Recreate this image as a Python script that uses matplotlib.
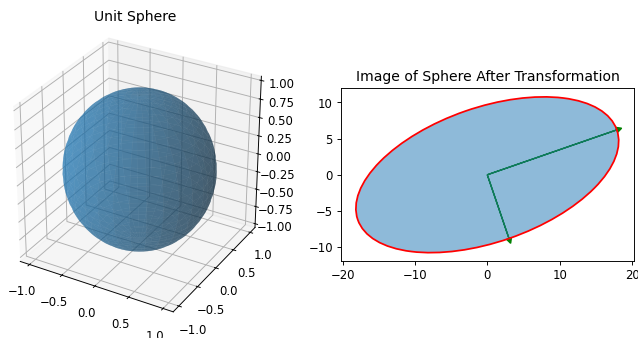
import numpy as np
import matplotlib.pyplot as plt
from matplotlib.patches import Ellipse

# semi-axes of the image ellipse
axis_vectors = [[17.9, 6.2], [3.0, -8.8]]
sphere_radius = 1.0
z_ticks = [-1.0, -0.75, -0.5, -0.25, 0.0, 0.25, 0.5, 0.75, 1.0]

DPI = 84


def plot_sphere(ax):
    u = np.linspace(0, 2 * np.pi, 60)
    v = np.linspace(0, np.pi, 60)
    x = sphere_radius * np.outer(np.cos(u), np.sin(v))
    y = sphere_radius * np.outer(np.sin(u), np.sin(v))
    z = sphere_radius * np.outer(np.ones_like(u), np.cos(v))
    ax.plot_surface(x, y, z, color='C0', alpha=0.5)
    ax.set_xlim(-1.145, 1.145)
    ax.set_ylim(-1.145, 1.145)
    ax.set_zlim(-1.055, 1.055)
    ax.set_zticks(z_ticks)
    ax.set_box_aspect([1, 1, 1])
    ax.set_title('Unit Sphere', y=1.08)


def plot_image(ax):
    a = np.array(axis_vectors[0])
    b = np.array(axis_vectors[1])
    for vec in (a, b):
        ax.arrow(0, 0, vec[0], vec[1], head_width=0.7, head_length=0.7,
                 color='green', linewidth=1.2)
    angle = np.degrees(np.arctan2(a[1], a[0]))
    w, h = 2 * np.linalg.norm(a), 2 * np.linalg.norm(b)
    ax.add_patch(Ellipse((0, 0), w, h, angle=angle,
                         facecolor='C0', alpha=0.5, edgecolor='none'))
    ax.add_patch(Ellipse((0, 0), w, h, angle=angle,
                         facecolor='none', edgecolor='red', linewidth=1.5))
    ax.set_xlim(-20.2, 20.3)
    ax.set_ylim(-11.9, 12.0)
    ax.set_title('Image of Sphere After Transformation')


fig = plt.figure(figsize=(638.2 / DPI, 338.2 / DPI), dpi=DPI)
ax1 = fig.add_axes([-0.02, 0.018, 0.465, 0.935], projection='3d')
ax2 = fig.add_axes([341 / 638, (338 - 261) / 338, 293 / 638, 173 / 338])
plot_sphere(ax1)
plot_image(ax2)

plt.savefig('out.png', dpi=DPI)
